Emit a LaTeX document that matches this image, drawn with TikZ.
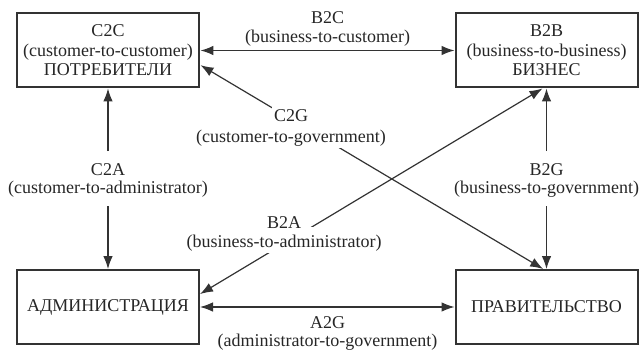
\documentclass[tikz,border=0pt]{standalone}
\usepackage{fontspec}
\setmainfont{Liberation Serif}
\usetikzlibrary{positioning,arrows.meta}

\begin{document}
\begin{tikzpicture}[x={(0.5pt, 0pt)}, y={(0pt, -0.5pt)}, >={Latex[length=6.5pt, width=4.8pt]}]
  \tikzstyle{box}=[draw=black!80, line width=1pt, minimum width=91pt, minimum height=37pt, align=center, text=black!85, font=\fontsize{9}{9.8}\selectfont]
  \tikzstyle{tag}=[anchor=base, inner sep=0pt, inner xsep=1pt, text height=10pt, text depth=3pt, text=black!85, font=\fontsize{9}{9.8}\selectfont]
  \tikzstyle{link}=[black!80, line width=0.6pt]

\useasboundingbox (0, 0) rectangle (640, 352);

\node[box] (c2c) at (108, 50.5) {C2C\\(customer-to-customer)\\ПОТРЕБИТЕЛИ};
\node[box] (b2b) at (546.5, 50.5) {B2B\\(business-to-business)\\БИЗНЕС};
\node[box] (adm) at (108, 307) {АДМИНИСТРАЦИЯ};
\node[box] (gov) at (546.5, 307) {ПРАВИТЕЛЬСТВО};

\node[tag] (b2c) at (327.5, 23.5) {B2C};
\node[tag] (db2c) at (327.5, 43) {(business-to-customer)};
\draw[link, <->] (c2c) -- (b2b);

\node[tag] (c2a) at (108, 175.5) {C2A};
\node[tag] (dc2a) at (108, 193) {(customer-to-administrator)};
\draw[link, ->, shorten <=2pt] (c2a) -- (c2c);
\draw[link, ->, shorten <=3.5pt] (dc2a) -- (adm);

\node[tag] (b2g) at (546.5, 175.5) {B2G};
\node[tag] (db2g) at (546.5, 193) {(business-to-government)};
\draw[link, ->, shorten <=2pt] (b2g) -- (b2b);
\draw[link, ->, shorten <=3.5pt] (db2g) -- (gov);

\draw[link, <->] (adm) -- (gov);
\node[tag] (a2g) at (327.5, 328) {A2G};
\node[tag] (da2g) at (327.5, 346.5) {(administrator-to-government)};

% diagonals first, labels on top
\draw[link, <->] (c2c.-9) -- (gov.95);
\draw[link, <->] (adm.8) -- (b2b.264);

\node[tag, fill=white] (dc2g) at (291, 142) {(customer-to-government)};
\node[tag, fill=white] (c2g) at (291, 122) {C2G};

\node[tag, fill=white] (db2a) at (284, 247) {(business-to-administrator)};
\node[tag, fill=white] (b2a) at (284, 228) {B2A};
\end{tikzpicture}
\end{document}
